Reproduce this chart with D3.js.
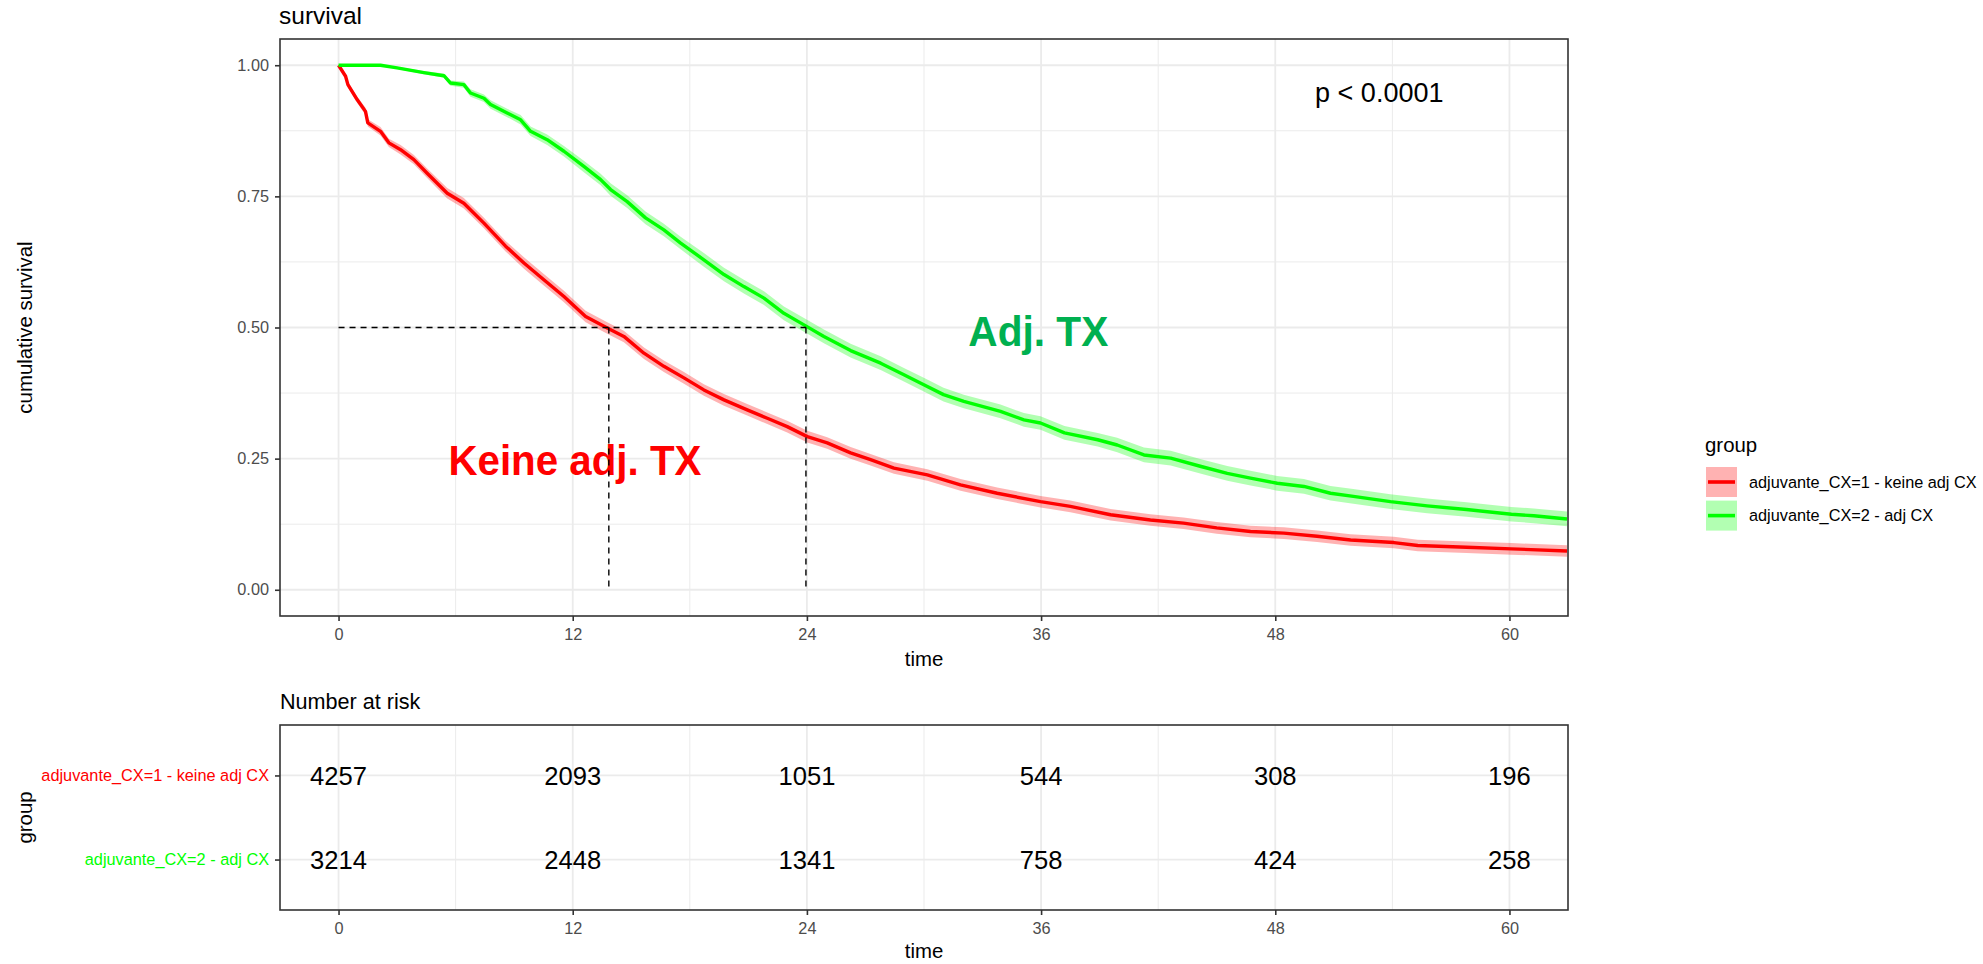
<!DOCTYPE html>
<html><head><meta charset="utf-8">
<script src="https://cdn.jsdelivr.net/npm/d3@7"></script>
<style>
html,body{margin:0;padding:0;background:#fff;}
svg text{font-family:"Liberation Sans",Arial,sans-serif;}
</style></head><body>
<svg id="chart" width="1983" height="964"></svg>
<script>
// ---------------- data ----------------
const groups = ["adjuvante_CX=1 - keine adj CX", "adjuvante_CX=2 - adj CX"];
const groupColors = ["#FF0000", "#00FF00"];

const redTime = [0,0.36,0.48,0.96,1.38,1.5,2.15,2.58,3.18,3.86,4.54,5.57,6.42,7.45,8.56,9.5,10.52,11.55,12.66,13.77,14.62,15.65,16.67,17.7,18.72,19.75,20.94,21.97,22.99,24.02,25.04,26.24,27.26,28.46,30.17,31.87,33.75,35.97,37.5,39.56,41.6,43.3,45.0,46.73,48.44,50.14,51.86,54.08,55.3,57.8,60.1,62.95];
const redSurv = [1.0,0.979,0.963,0.934,0.912,0.890,0.874,0.852,0.839,0.820,0.794,0.756,0.737,0.699,0.655,0.623,0.591,0.559,0.521,0.499,0.483,0.451,0.426,0.404,0.381,0.362,0.343,0.327,0.311,0.292,0.280,0.261,0.248,0.232,0.219,0.200,0.184,0.168,0.159,0.143,0.133,0.127,0.118,0.111,0.108,0.102,0.095,0.090,0.0845,0.081,0.078,0.074];
const redCI = [0,0.004,0.005,0.006,0.007,0.007,0.008,0.008,0.009,0.009,0.009,0.01,0.01,0.01,0.01,0.011,0.011,0.011,0.011,0.011,0.011,0.011,0.011,0.011,0.011,0.011,0.011,0.011,0.011,0.011,0.011,0.011,0.011,0.011,0.011,0.011,0.011,0.011,0.011,0.011,0.011,0.011,0.011,0.011,0.011,0.011,0.011,0.011,0.011,0.011,0.011,0.011];

const greenTime = [0,2.15,3.0,4.37,5.4,5.74,6.42,6.76,7.45,7.79,8.64,9.33,9.84,10.69,11.55,12.57,13.43,13.94,14.79,15.73,16.67,17.53,18.72,19.75,20.77,21.8,22.82,23.85,24.87,26.24,27.78,28.97,29.99,31.0,32.04,33.92,35.12,35.97,37.2,38.9,39.9,41.27,42.64,44.2,45.54,46.73,48.1,49.47,50.83,52.0,53.9,55.78,57.8,60.1,61.25,62.95];
const greenSurv = [1.0,1.0,0.995,0.986,0.98,0.966,0.963,0.947,0.937,0.925,0.909,0.896,0.874,0.858,0.836,0.807,0.782,0.763,0.740,0.709,0.686,0.661,0.629,0.601,0.578,0.556,0.527,0.505,0.483,0.456,0.432,0.41,0.391,0.372,0.359,0.34,0.324,0.318,0.299,0.286,0.276,0.257,0.251,0.235,0.222,0.213,0.203,0.197,0.184,0.178,0.168,0.160,0.153,0.144,0.141,0.135];
const greenCI = [0,0.001,0.002,0.003,0.004,0.005,0.006,0.007,0.007,0.008,0.008,0.009,0.009,0.01,0.01,0.011,0.011,0.012,0.012,0.012,0.012,0.012,0.013,0.013,0.013,0.013,0.013,0.013,0.013,0.013,0.013,0.013,0.013,0.013,0.013,0.013,0.013,0.013,0.013,0.013,0.014,0.014,0.014,0.014,0.014,0.014,0.014,0.014,0.014,0.014,0.014,0.014,0.014,0.014,0.014,0.014];

const medianTimes = [13.85, 23.95];
const medianLevel = 0.5;

const xTicks = [0, 12, 24, 36, 48, 60];
const xMinorTicks = [6, 18, 30, 42, 54];
const yTicks = [0, 0.25, 0.5, 0.75, 1];
const yMinorTicks = [0.125, 0.375, 0.625, 0.875];

const riskTimes = [0, 12, 24, 36, 48, 60];
const riskRed = [4257, 2093, 1051, 544, 308, 196];
const riskGreen = [3214, 2448, 1341, 758, 424, 258];

const pValueText = "p < 0.0001";
const pValuePos = [50.04, 0.929];            // data coords (time, survival)
const annoTexts = ["Keine adj. TX", "Adj. TX"];
const annoPos = [[5.63, 0.218], [32.27, 0.465]];
const annoLength = [253, 140];
const annoColors = ["#FF0000", "#00B050"];

// ---------------- layout ----------------
const FONT = '"Liberation Sans", Arial, sans-serif';
const svg = d3.select("#chart");
const P = {left: 280, right: 1568, top: 39, bottom: 616};
const R = {top: 725, bottom: 910};

const x = d3.scaleLinear().domain([-3, 63]).range([P.left, P.right]);
const y = d3.scaleLinear().domain([-0.05, 1.05]).range([P.bottom, P.top]);
const yRisk = d3.scalePoint().domain(groups).range([R.top, R.bottom]).padding(0.6);

const GRID = "#EBEBEB";

const defs = svg.append("defs");
defs.append("clipPath").attr("id", "clipMain").append("rect")
  .attr("x", P.left).attr("y", P.top).attr("width", P.right - P.left).attr("height", P.bottom - P.top);

// ---------- main panel grid ----------
const gGrid = svg.append("g");
gGrid.selectAll(".xminor").data(xMinorTicks).join("line")
  .attr("x1", d => x(d)).attr("x2", d => x(d)).attr("y1", P.top).attr("y2", P.bottom)
  .attr("stroke", GRID).attr("stroke-width", 1);
gGrid.selectAll(".yminor").data(yMinorTicks).join("line")
  .attr("y1", d => y(d)).attr("y2", d => y(d)).attr("x1", P.left).attr("x2", P.right)
  .attr("stroke", GRID).attr("stroke-width", 1);
gGrid.selectAll(".xmajor").data(xTicks).join("line")
  .attr("x1", d => x(d)).attr("x2", d => x(d)).attr("y1", P.top).attr("y2", P.bottom)
  .attr("stroke", GRID).attr("stroke-width", 1.8);
gGrid.selectAll(".ymajor").data(yTicks).join("line")
  .attr("y1", d => y(d)).attr("y2", d => y(d)).attr("x1", P.left).attr("x2", P.right)
  .attr("stroke", GRID).attr("stroke-width", 1.8);

// ---------- curves ----------
function series(times, surv, ci) { return times.map((t, i) => ({t: t, s: surv[i], c: ci[i]})); }
const curves = [series(redTime, redSurv, redCI), series(greenTime, greenSurv, greenCI)];
const line = d3.line().x(d => x(d.t)).y(d => y(d.s));
const area = d3.area().x(d => x(d.t)).y0(d => y(d.s - d.c)).y1(d => y(d.s + d.c));

const gCurves = svg.append("g").attr("clip-path", "url(#clipMain)");
curves.forEach((c, i) => {
  gCurves.append("path").datum(c).attr("d", area)
    .attr("fill", groupColors[i]).attr("fill-opacity", 0.3).attr("stroke", "none");
});
curves.forEach((c, i) => {
  gCurves.append("path").datum(c).attr("d", line)
    .attr("fill", "none").attr("stroke", groupColors[i]).attr("stroke-width", 3.4)
    .attr("stroke-linejoin", "round");
});

// ---------- annotations ----------
annoTexts.forEach((t, i) => {
  svg.append("text").attr("x", x(annoPos[i][0])).attr("y", y(annoPos[i][1]))
    .attr("font-family", "Lato, 'Open Sans', sans-serif").attr("font-weight", 700)
    .attr("font-size", "42px").attr("fill", annoColors[i])
    .attr("textLength", annoLength[i]).attr("lengthAdjust", "spacingAndGlyphs").text(t);
});

// ---------- median lines ----------
const gMed = svg.append("g").attr("stroke", "#000").attr("stroke-width", 1.4).attr("stroke-dasharray", "6,5");
gMed.append("line").attr("x1", x(0)).attr("x2", x(d3.max(medianTimes)))
  .attr("y1", y(medianLevel)).attr("y2", y(medianLevel));
gMed.selectAll(".v").data(medianTimes).join("line")
  .attr("x1", d => x(d)).attr("x2", d => x(d)).attr("y1", y(medianLevel)).attr("y2", y(0));

// ---------- p value ----------
svg.append("text").attr("x", x(pValuePos[0])).attr("y", y(pValuePos[1]))
  .attr("font-size", "27px").attr("fill", "#000").text(pValueText);

// ---------- border ----------
svg.append("rect").attr("x", P.left).attr("y", P.top).attr("width", P.right - P.left).attr("height", P.bottom - P.top)
  .attr("fill", "none").attr("stroke", "#333333").attr("stroke-width", 1.6);

// ---------- axes ----------
function styleAxis(g) {
  g.attr("font-family", FONT).attr("font-size", 16.3);
  g.select(".domain").remove();
  g.selectAll("line").attr("stroke", "#333333").attr("stroke-width", 1.6);
  g.selectAll("text").attr("fill", "#4D4D4D");
}
svg.append("g").attr("transform", `translate(0,${P.bottom})`)
  .call(d3.axisBottom(x).tickValues(xTicks).tickSize(5).tickPadding(7)).call(styleAxis);
svg.append("g").attr("transform", `translate(${P.left},0)`)
  .call(d3.axisLeft(y).tickValues(yTicks).tickFormat(d3.format(".2f")).tickSize(5).tickPadding(6)).call(styleAxis);

svg.append("text").attr("x", 279).attr("y", 24).attr("font-size", "24.5px").attr("fill", "#000").text("survival");
svg.append("text").attr("x", (P.left + P.right) / 2).attr("y", 666).attr("text-anchor", "middle")
  .attr("font-size", "20.4px").attr("fill", "#000").text("time");
svg.append("text").attr("transform", `translate(32,${(P.top + P.bottom) / 2}) rotate(-90)`)
  .attr("text-anchor", "middle").attr("font-size", "20.4px").attr("fill", "#000").text("cumulative survival");

// ---------- legend ----------
const L = svg.append("g");
L.append("text").attr("x", 1705).attr("y", 452).attr("font-size", "20.4px").attr("fill", "#000").text("group");
groups.forEach((g, i) => {
  const top = 467 + i * 33.6;
  L.append("rect").attr("x", 1706).attr("y", top).attr("width", 31).attr("height", 30)
    .attr("fill", groupColors[i]).attr("fill-opacity", 0.3);
  L.append("line").attr("x1", 1708).attr("x2", 1735).attr("y1", top + 15).attr("y2", top + 15)
    .attr("stroke", groupColors[i]).attr("stroke-width", 3.6);
  L.append("text").attr("x", 1749).attr("y", top + 15).attr("dy", "0.36em")
    .attr("font-size", "16.3px").attr("fill", "#000").text(g);
});

// ---------- risk table ----------
svg.append("text").attr("x", 280).attr("y", 709).attr("font-size", "21.6px").attr("fill", "#000").text("Number at risk");

const gRG = svg.append("g");
gRG.selectAll(".xminor").data(xMinorTicks).join("line")
  .attr("x1", d => x(d)).attr("x2", d => x(d)).attr("y1", R.top).attr("y2", R.bottom)
  .attr("stroke", GRID).attr("stroke-width", 1);
gRG.selectAll(".xmajor").data(xTicks).join("line")
  .attr("x1", d => x(d)).attr("x2", d => x(d)).attr("y1", R.top).attr("y2", R.bottom)
  .attr("stroke", GRID).attr("stroke-width", 1.8);
gRG.selectAll(".ymajor").data(groups).join("line")
  .attr("y1", d => yRisk(d)).attr("y2", d => yRisk(d)).attr("x1", P.left).attr("x2", P.right)
  .attr("stroke", GRID).attr("stroke-width", 1.8);

const riskData = [riskRed, riskGreen];
riskData.forEach((vals, gi) => {
  svg.append("g").selectAll("text").data(vals).join("text")
    .attr("x", (d, j) => x(riskTimes[j])).attr("y", yRisk(groups[gi])).attr("dy", "0.36em")
    .attr("text-anchor", "middle").attr("font-size", "25.6px").attr("fill", "#000").text(d => d);
});

svg.append("rect").attr("x", P.left).attr("y", R.top).attr("width", P.right - P.left).attr("height", R.bottom - R.top)
  .attr("fill", "none").attr("stroke", "#333333").attr("stroke-width", 1.6);

svg.append("g").attr("transform", `translate(0,${R.bottom})`)
  .call(d3.axisBottom(x).tickValues(xTicks).tickSize(5).tickPadding(7)).call(styleAxis);
const gRY = svg.append("g").attr("transform", `translate(${P.left},0)`)
  .call(d3.axisLeft(yRisk).tickSize(5).tickPadding(6)).call(styleAxis);
gRY.selectAll("text").attr("fill", d => groupColors[groups.indexOf(d)]);

svg.append("text").attr("x", (P.left + P.right) / 2).attr("y", 958).attr("text-anchor", "middle")
  .attr("font-size", "20.4px").attr("fill", "#000").text("time");
svg.append("text").attr("transform", `translate(32,${(R.top + R.bottom) / 2}) rotate(-90)`)
  .attr("text-anchor", "middle").attr("font-size", "20.4px").attr("fill", "#000").text("group");
</script>
</body></html>
